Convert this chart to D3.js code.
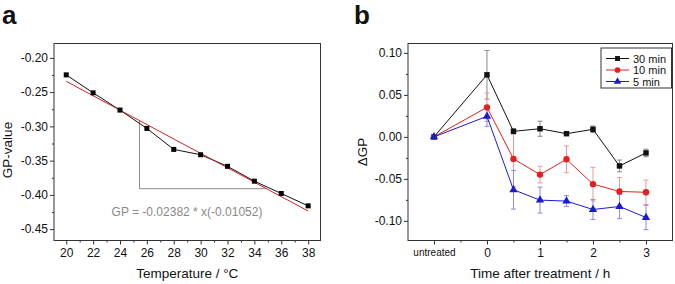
<!DOCTYPE html>
<html>
<head>
<meta charset="utf-8">
<script src="https://cdn.jsdelivr.net/npm/d3@7"></script>
<style>
  html, body { margin: 0; padding: 0; background: #fff; }
  svg { display: block; font-family: "Liberation Sans", Arial, sans-serif; }
</style>
</head>
<body>
<svg id="chart" width="675" height="284"></svg>
<script>
"use strict";

// panel a: GP-value vs temperature
const tempC = [20, 22, 24, 26, 28, 30, 32, 34, 36, 38];
const gpValue = [-0.2248, -0.251, -0.2762, -0.303, -0.3336, -0.3414, -0.3583, -0.380, -0.398, -0.416];
const fitIntercept = -0.02382;
const fitSlope = -0.01052;
const fitLabel = 'GP = -0.02382 * x(-0.01052)';
const guideTemp = 25.45;
const guideGP = -0.391;
const tempTicks = [20, 22, 24, 26, 28, 30, 32, 34, 36, 38];
const tempMinorTicks = [21, 23, 25, 27, 29, 31, 33, 35, 37];
const gpTicks = [-0.20, -0.25, -0.30, -0.35, -0.40, -0.45];
const gpMinorTicks = [-0.225, -0.275, -0.325, -0.375, -0.425];

// panel b: delta GP after treatment
const timeH = [-1, 0, 0.5, 1, 1.5, 2, 2.5, 3];
const timeTicks = [-1, 0, 1, 2, 3];
const timeTickLabels = ['untreated', '0', '1', '2', '3'];
const timeMinorTicks = [-0.5, 0.5, 1.5, 2.5];
const seriesNames = ['30 min', '10 min', '5 min'];
const gp30 = [0, 0.0739, 0.0066, 0.0097, 0.0038, 0.0090, -0.0346, -0.0191];
const err30 = [0, 0.0290, 0.0030, 0.0090, 0.0015, 0.0040, 0.0070, 0.0045];
const gp10 = [0, 0.0352, -0.0262, -0.0449, -0.0267, -0.0563, -0.0650, -0.0660];
const err10 = [0, 0.0170, 0.0330, 0.0100, 0.0160, 0.0200, 0.0165, 0.0145];
const gp5 = [0, 0.0245, -0.0630, -0.0753, -0.0765, -0.0865, -0.0829, -0.0960];
const err5 = [0, 0.0120, 0.0230, 0.0155, 0.0065, 0.0120, 0.0145, 0.0145];
const dgpTicks = [-0.10, -0.05, 0.00, 0.05, 0.10];
const dgpMinorTicks = [-0.075, -0.025, 0.025, 0.075];

const svg = d3.select('#chart');
const axisColor = '#333';
const fmt = (d) => d3.format('.2f')(d).replace('\u2212', '-');

function drawFrame(g, x, y, opts) {
  let [x0, x1] = x.range();
  let [y0, y1] = y.range();

  // minor ticks
  g.append('g').attr('transform', `translate(0,${y0})`)
    .call(d3.axisBottom(x).tickValues(opts.xMinor).tickSize(2).tickFormat(''))
    .call((a) => a.select('.domain').remove());
  g.append('g').attr('transform', `translate(${x0},0)`)
    .call(d3.axisLeft(y).tickValues(opts.yMinor).tickSize(2).tickFormat(''))
    .call((a) => a.select('.domain').remove());

  // major ticks
  let xa = g.append('g').attr('transform', `translate(0,${y0})`)
    .call(d3.axisBottom(x).tickValues(opts.xTicks).tickSize(4).tickPadding(4).tickFormat(opts.xFormat));
  xa.select('.domain').remove();
  xa.selectAll('text').style('font-size', '12px').attr('fill', '#111');

  let ya = g.append('g').attr('transform', `translate(${x0},0)`)
    .call(d3.axisLeft(y).tickValues(opts.yTicks).tickSize(4).tickPadding(2).tickFormat(fmt));
  ya.select('.domain').remove();
  ya.selectAll('text').style('font-size', '12px').attr('fill', '#111');

  g.selectAll('.tick line').attr('stroke', axisColor);

  g.append('rect')
    .attr('x', x0).attr('y', y1)
    .attr('width', x1 - x0).attr('height', y0 - y1)
    .attr('fill', 'none').attr('stroke', axisColor).attr('stroke-width', 1);

  g.append('text')
    .attr('x', (x0 + x1) / 2).attr('y', 278)
    .attr('text-anchor', 'middle').style('font-size', '13.5px').attr('fill', '#111')
    .text(opts.xTitle);

  g.append('text')
    .attr('transform', `translate(${opts.yTitleX},${opts.yTitleY}) rotate(-90)`)
    .attr('text-anchor', 'middle').style('font-size', '13.5px').attr('fill', '#111')
    .text(opts.yTitle);

  return { xa, ya };
}

// ---------- panel a ----------
(function () {
  let g = svg.append('g');
  let x = d3.scaleLinear().domain([19.09, 38.92]).range([54, 320.5]);
  let y = d3.scaleLinear().domain([-0.4666, -0.179]).range([240.5, 43.5]);
  let fit = (t) => fitIntercept + fitSlope * t;

  drawFrame(g, x, y, {
    xTicks: tempTicks, xMinor: tempMinorTicks, yTicks: gpTicks, yMinor: gpMinorTicks,
    xFormat: d3.format('d'), xTitle: 'Temperature / \u00b0C',
    yTitle: 'GP-value', yTitleX: 12, yTitleY: 150
  });

  // slope guide
  let guideEnd = (guideGP - fitIntercept) / fitSlope;
  g.append('path')
    .attr('d', d3.line()([
      [x(guideTemp), y(fit(guideTemp))],
      [x(guideTemp), y(guideGP)],
      [x(guideEnd), y(guideGP)]
    ]))
    .attr('fill', 'none').attr('stroke', '#8a8a8a').attr('stroke-width', 1);

  g.append('text')
    .attr('x', 187).attr('y', 216)
    .attr('text-anchor', 'middle').style('font-size', '12px').attr('fill', '#888')
    .text(fitLabel);

  let line = d3.line().x((d, i) => x(tempC[i])).y((d) => y(d));
  g.append('path').attr('d', line(gpValue))
    .attr('fill', 'none').attr('stroke', '#111').attr('stroke-width', 1);

  let ends = d3.extent(tempC);
  g.append('path')
    .attr('d', d3.line()(ends.map((t) => [x(t), y(fit(t))])))
    .attr('fill', 'none').attr('stroke', '#c8262a').attr('stroke-width', 1);

  g.selectAll('rect.pt').data(gpValue).join('rect')
    .attr('class', 'pt')
    .attr('x', (d, i) => x(tempC[i]) - 2.5).attr('y', (d) => y(d) - 2.5)
    .attr('width', 5).attr('height', 5).attr('fill', '#000');

  g.append('text').attr('x', 2).attr('y', 24)
    .style('font-size', '26px').style('font-weight', 'bold').attr('fill', '#111')
    .text('a');
})();

// ---------- panel b ----------
(function () {
  let g = svg.append('g');
  let x = d3.scaleLinear().domain([-1.49, 3.5]).range([408, 672.5]);
  let y = d3.scaleLinear().domain([-0.1234, 0.1112]).range([240.5, 43.5]);

  let axes = drawFrame(g, x, y, {
    xTicks: timeTicks, xMinor: timeMinorTicks, yTicks: dgpTicks, yMinor: dgpMinorTicks,
    xFormat: (d, i) => timeTickLabels[i], xTitle: 'Time after treatment / h',
    yTitle: '\u0394GP', yTitleX: 367, yTitleY: 152
  });
  axes.xa.selectAll('text').filter((d) => d === -1).style('font-size', '10px');

  let series = [
    { name: seriesNames[0], values: gp30, errors: err30, color: '#111', errColor: '#8a8a8a', shape: d3.symbolSquare, size: 30 },
    { name: seriesNames[1], values: gp10, errors: err10, color: '#e3201f', errColor: '#e79a9a', shape: d3.symbolCircle, size: 32 },
    { name: seriesNames[2], values: gp5, errors: err5, color: '#1c1ccf', errColor: '#8c8cd8', shape: d3.symbolTriangle, size: 30 }
  ];

  let line = d3.line().x((d, i) => x(timeH[i])).y((d) => y(d));

  series.forEach((s) => {
    let eg = g.append('g');
    s.values.forEach((v, i) => {
      let e = s.errors[i];
      if (!e) return;
      let cx = x(timeH[i]);
      eg.append('line').attr('x1', cx).attr('x2', cx).attr('y1', y(v - e)).attr('y2', y(v + e));
      [v - e, v + e].forEach((w) => {
        eg.append('line').attr('x1', cx - 2.5).attr('x2', cx + 2.5).attr('y1', y(w)).attr('y2', y(w));
      });
    });
    eg.selectAll('line').attr('stroke', s.errColor).attr('stroke-width', 1);
  });

  series.forEach((s) => {
    g.append('path').attr('d', line(s.values))
      .attr('fill', 'none').attr('stroke', s.color).attr('stroke-width', 1);
    g.selectAll(null).data(s.values).join('path')
      .attr('transform', (d, i) => `translate(${x(timeH[i])},${y(d)})`)
      .attr('d', d3.symbol().type(s.shape).size(s.size))
      .attr('fill', s.color);
  });

  // legend
  let lg = g.append('g').attr('transform', 'translate(601,48)');
  lg.append('rect').attr('width', 70.5).attr('height', 40)
    .attr('fill', '#fff').attr('stroke', axisColor).attr('stroke-width', 1);
  series.forEach((s, i) => {
    let ry = 10.5 + i * 11.5;
    lg.append('line').attr('x1', 5).attr('x2', 28).attr('y1', ry).attr('y2', ry)
      .attr('stroke', s.color).attr('stroke-width', 1);
    lg.append('path').attr('transform', `translate(16.5,${ry})`)
      .attr('d', d3.symbol().type(s.shape).size(s.size * 0.8)).attr('fill', s.color);
    lg.append('text').attr('x', 32).attr('y', ry + 4)
      .style('font-size', '11px').attr('fill', '#111').text(s.name);
  });

  g.append('text').attr('x', 354).attr('y', 24)
    .style('font-size', '26px').style('font-weight', 'bold').attr('fill', '#111')
    .text('b');
})();
</script>
</body>
</html>
